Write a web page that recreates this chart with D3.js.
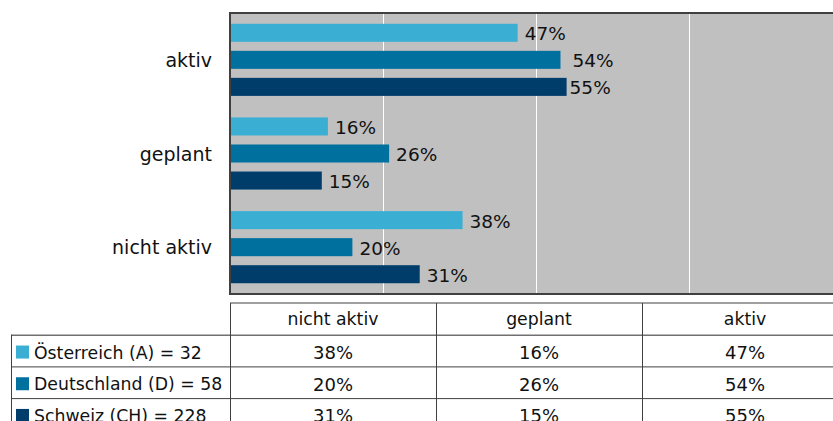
<!DOCTYPE html>
<meta charset="utf-8">
<style>
    body { margin: 0; background: #fff; }
    text { font-family: "DejaVu Sans", sans-serif; fill: #111; }
</style>
<svg width="833" height="421"></svg>
<script src="https://cdn.jsdelivr.net/npm/d3@7"></script>
<script>

    // categories, bottom-to-top in the chart, left-to-right in the table
    var categories = ["nicht aktiv", "geplant", "aktiv"];
    var seriesNames = ["Österreich (A) = 32", "Deutschland (D) = 58", "Schweiz (CH) = 228"];
    var oesterreich = [38, 16, 47];
    var deutschland = [20, 26, 54];
    var schweiz = [31, 15, 55];
    var colors = ["#3aaed3", "#00709f", "#003d6b"];
    var gridTicks = [0, 25, 50, 75, 100];

    var values = [oesterreich, deutschland, schweiz];

    var svg = d3.select("svg"),
        plot = { left: 230, top: 13, bottom: 294, right: 842 };

    var x = d3.scaleLinear()
        .domain([0, 100])
        .range([plot.left, plot.right]);

    // top category first
    var y0 = d3.scaleBand()
        .domain(categories.slice().reverse())
        .range([plot.top, plot.bottom])
        .paddingInner(0.23)
        .paddingOuter(0.115);

    var y1 = d3.scaleBand()
        .domain(d3.range(seriesNames.length))
        .range([0, y0.bandwidth()])
        .paddingInner(1 / 3);

    // plot background
    svg.append("rect")
        .attr("x", plot.left)
        .attr("y", plot.top)
        .attr("width", plot.right - plot.left)
        .attr("height", plot.bottom - plot.top)
        .attr("fill", "#c0c0c0");

    // white gridlines
    svg.append("g")
        .selectAll("line")
        .data(gridTicks.slice(1))
        .join("line")
        .attr("x1", function (d) { return x(d) + 0.5; })
        .attr("x2", function (d) { return x(d) + 0.5; })
        .attr("y1", plot.top)
        .attr("y2", plot.bottom)
        .attr("stroke", "#fff")
        .attr("stroke-width", 1);

    // bars
    var groups = svg.append("g")
        .selectAll("g")
        .data(categories)
        .join("g")
        .attr("transform", function (d) { return "translate(0," + y0(d) + ")"; });

    // a couple of labels were moved by hand in the original
    var labelNudge = { "aktiv|1": 5, "aktiv|2": -4 };

    groups.each(function (cat, ci) {
        var g = d3.select(this);
        var rows = values.map(function (v, si) { return { s: si, v: v[ci], cat: cat }; });

        g.selectAll("rect")
            .data(rows)
            .join("rect")
            .attr("x", x(0))
            .attr("y", function (d) { return y1(d.s); })
            .attr("width", function (d) { return x(d.v) - x(0); })
            .attr("height", y1.bandwidth())
            .attr("fill", function (d) { return colors[d.s]; });

        g.selectAll("text")
            .data(rows)
            .join("text")
            .attr("x", function (d) { return x(d.v) + 7 + (labelNudge[d.cat + "|" + d.s] || 0); })
            .attr("y", function (d) { return y1(d.s) + y1.bandwidth() / 2; })
            .attr("dy", "0.4em")
            .style("font-size", "18.5px")
            .text(function (d) { return d.v + "%"; });
    });

    // category labels
    svg.append("g")
        .selectAll("text")
        .data(categories)
        .join("text")
        .attr("x", 212)
        .attr("y", function (d) { return y0(d) + y0.bandwidth() / 2; })
        .attr("dy", "0.38em")
        .attr("text-anchor", "end")
        .style("font-size", "19px")
        .text(function (d) { return d; });

    // plot frame
    svg.append("path")
        .attr("d", "M" + (plot.right + 2) + "," + plot.top + "H" + plot.left + "V" + plot.bottom + "H" + (plot.right + 2))
        .attr("fill", "none")
        .attr("stroke", "#404040")
        .attr("stroke-width", 2);

    // data table
    var tx = d3.scaleBand()
        .domain(categories)
        .range([230, 848]);

    var rowH = 31.7,
        tTop = 303,
        tFont = "17.3px";

    var ty = d3.scaleBand()
        .domain(["head"].concat(d3.range(seriesNames.length)))
        .range([tTop, tTop + rowH * (seriesNames.length + 1)]);

    var table = svg.append("g");

    // horizontal rules
    table.append("line")
        .attr("x1", 230).attr("x2", 848)
        .attr("y1", tTop).attr("y2", tTop)
        .attr("stroke", "#404040");
    table.selectAll("line.row")
        .data(d3.range(seriesNames.length))
        .join("line")
        .attr("class", "row")
        .attr("x1", 11).attr("x2", 848)
        .attr("y1", function (d) { return ty(d) + 0.5; })
        .attr("y2", function (d) { return ty(d) + 0.5; })
        .attr("stroke", function (d) { return d === 0 ? "#707070" : "#404040"; })
        .attr("stroke-width", function (d) { return d === 0 ? 1.5 : 1; });

    // vertical rules
    table.selectAll("line.col")
        .data(categories)
        .join("line")
        .attr("class", "col")
        .attr("x1", function (d) { return tx(d) + 0.5; })
        .attr("x2", function (d) { return tx(d) + 0.5; })
        .attr("y1", tTop)
        .attr("y2", 421)
        .attr("stroke", "#404040");
    table.append("line")
        .attr("x1", 11.5).attr("x2", 11.5)
        .attr("y1", ty(0)).attr("y2", 421)
        .attr("stroke", "#404040");

    // header
    table.selectAll("text.head")
        .data(categories)
        .join("text")
        .attr("class", "head")
        .attr("x", function (d) { return tx(d) + tx.bandwidth() / 2; })
        .attr("y", ty("head") + rowH / 2)
        .attr("dy", "0.36em")
        .attr("text-anchor", "middle")
        .style("font-size", tFont)
        .text(function (d) { return d; });

    // legend keys + names
    seriesNames.forEach(function (name, si) {
        table.append("rect")
            .attr("x", 16)
            .attr("y", ty(si) + rowH / 2 - 5)
            .attr("width", 13)
            .attr("height", 13)
            .attr("fill", colors[si]);
        table.append("text")
            .attr("x", 34)
            .attr("y", ty(si) + rowH / 2)
            .attr("dy", "0.46em")
            .style("font-size", tFont)
            .text(name);

        table.selectAll("text.v" + si)
            .data(values[si])
            .join("text")
            .attr("class", "v" + si)
            .attr("x", function (d, ci) { return tx(categories[ci]) + tx.bandwidth() / 2; })
            .attr("y", ty(si) + rowH / 2)
            .attr("dy", "0.46em")
            .attr("text-anchor", "middle")
            .style("font-size", "18px")
            .text(function (d) { return d + "%"; });
    });

</script>
